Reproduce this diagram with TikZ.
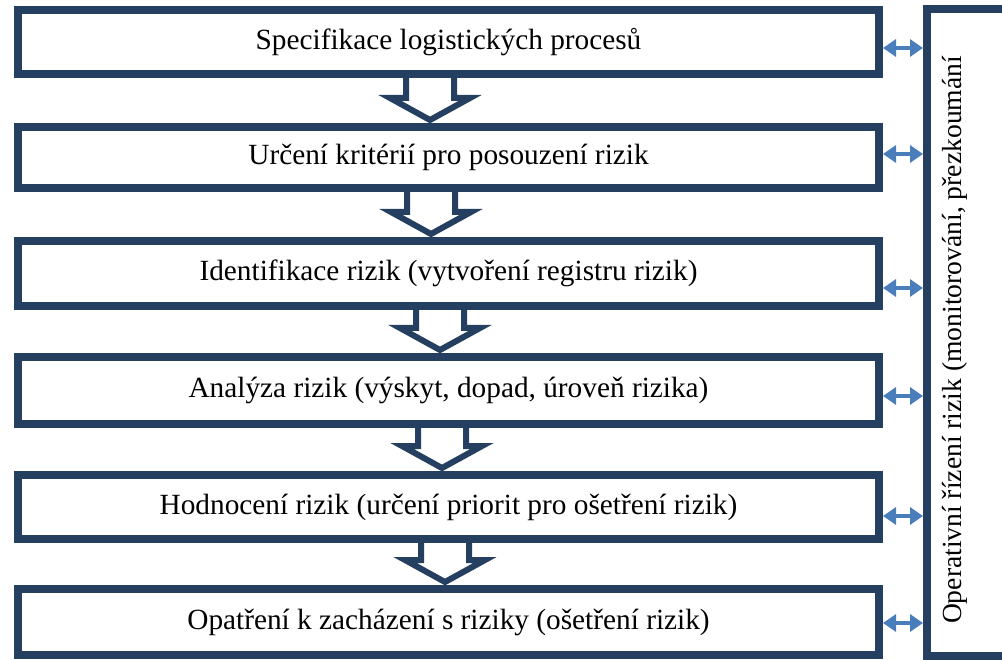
\documentclass[tikz,border=0pt]{standalone}
\usepackage{fontspec}
\setmainfont{Liberation Serif}
\usetikzlibrary{arrows.meta,backgrounds,calc}
\definecolor{navy}{HTML}{243F60}
\definecolor{lblue}{HTML}{4A7EBB}
\tikzset{
  box/.style={draw=navy,line width=8pt,fill=white,minimum width=861pt,inner sep=0pt,outer sep=4pt,font=\fontsize{29.3}{33}\selectfont},
  blockarrow/.style={draw=navy,fill=white,line width=6pt,line join=miter},
  dbl/.style={draw=lblue,line width=4.5pt,{Triangle[length=13pt,width=17pt]}-{Triangle[length=13pt,width=17pt]}},
  sidebox/.style={minimum width=200pt,minimum height=647pt,inner sep=0pt,outer sep=0pt},
  sideline/.style={draw=navy,line width=8pt,line join=miter},
  sidelabel/.style={rotate=90,inner sep=0pt,font=\fontsize{27.6}{31}\selectfont}
}
\newcommand{\blockarr}[3]{%
  \path[blockarrow] let \p1=(#1.south), \p2=(#2.north) in
    ({#3pt-24pt},{\y1+10pt}) -- ({#3pt-24pt},{\y2+25pt}) -- ({#3pt-40pt},{\y2+25pt})
    -- ({#3pt},{\y2+3pt}) -- ({#3pt+40pt},{\y2+25pt}) -- ({#3pt+24pt},{\y2+25pt})
    -- ({#3pt+24pt},{\y1+10pt}) -- cycle;}
\begin{document}
\begin{tikzpicture}[x=1pt,y=-1pt]
\useasboundingbox (0,0) rectangle (1002,660);
\clip (0,0) rectangle (1002,660);
\node[box,minimum height=64pt] (b1) at (448.5,42) {Specifikace logistických procesů};
\node[box,minimum height=61pt] (b2) at (448.5,157.5) {Určení kritérií pro posouzení rizik};
\node[box,minimum height=65pt] (b3) at (448.5,273.5) {Identifikace rizik (vytvoření registru rizik)};
\node[box,minimum height=67pt] (b4) at (448.5,390.5) {Analýza rizik (výskyt, dopad, úroveň rizika)};
\node[box,minimum height=64pt] (b5) at (448.5,507) {Hodnocení rizik (určení priorit pro ošetření rizik)};
\node[box,minimum height=66pt] (b6) at (448.5,622) {Opatření k zacházení s riziky (ošetření rizik)};
\node[sidebox] (rb) at (1027,332.5) {};
\node[sidelabel] (lbl) at (955,340) {Operativní řízení rizik (monitorování, přezkoumání};
\begin{scope}[on background layer]
\blockarr{b1}{b2}{430}
\blockarr{b2}{b3}{431}
\blockarr{b3}{b4}{440}
\blockarr{b4}{b5}{442}
\blockarr{b5}{b6}{445}
\end{scope}
\draw[dbl] (b1.east |- 0,48) -- ([xshift=-4pt]rb.west |- 0,48);
\draw[dbl] (b2.east |- 0,154) -- ([xshift=-4pt]rb.west |- 0,154);
\draw[dbl] (b3.east |- 0,288) -- ([xshift=-4pt]rb.west |- 0,288);
\draw[dbl] (b4.east |- 0,396) -- ([xshift=-4pt]rb.west |- 0,396);
\draw[dbl] (b5.east |- 0,516) -- ([xshift=-4pt]rb.west |- 0,516);
\draw[dbl] (b6.east |- 0,623) -- ([xshift=-4pt]rb.west |- 0,623);
\draw[sideline] (rb.north east) -- (rb.north west) -- (rb.south west) -- (rb.south east);
\end{tikzpicture}
\end{document}
